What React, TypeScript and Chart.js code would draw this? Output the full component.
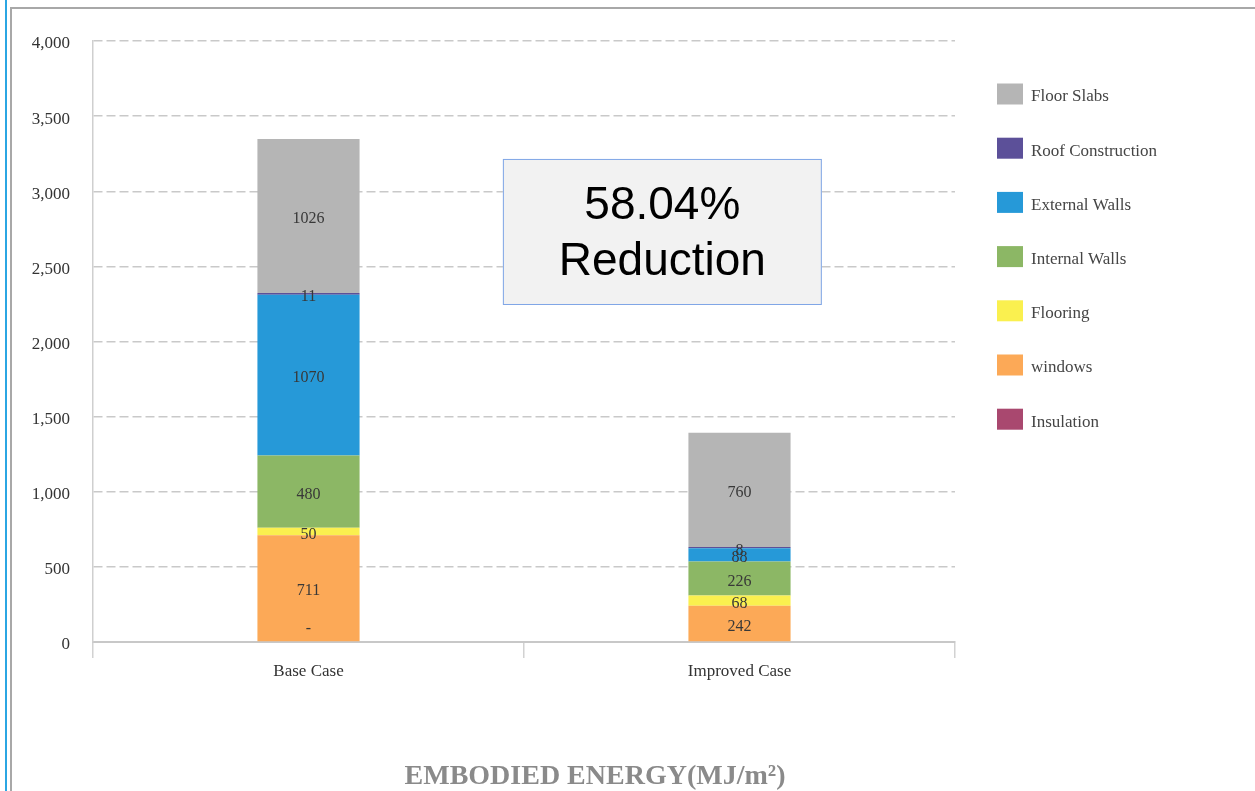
import React, { useEffect, useRef } from "react";
import { Chart, registerables } from "chart.js";

Chart.register(...registerables);

// ---- data ----
const categories = ["Base Case", "Improved Case"];
const seriesNames = [
  "Insulation",
  "windows",
  "Flooring",
  "Internal Walls",
  "External Walls",
  "Roof Construction",
  "Floor Slabs",
];
const insulation = [0, null];
const windows = [711, 242];
const flooring = [50, 68];
const internalWalls = [480, 226];
const externalWalls = [1070, 88];
const roofConstruction = [11, 8];
const floorSlabs = [1026, 760];
const seriesColors = [
  "#a9486f",
  "#fca957",
  "#faf04f",
  "#8cb765",
  "#2699d8",
  "#5c5099",
  "#b5b5b5",
];
const yMax = 4000;
const yStep = 500;
const axisTitle = "EMBODIED ENERGY(MJ/m\u00B2)";
const noteLines = ["58.04%", "Reduction"];

const SERIF = "'Liberation Serif', 'Times New Roman', serif";
const SANS = "'Liberation Sans', Arial, sans-serif";

const seriesValues = [
  insulation,
  windows,
  flooring,
  internalWalls,
  externalWalls,
  roofConstruction,
  floorSlabs,
];

const labelPlugin = {
  id: "segLabels",
  afterDatasetsDraw(chart: any) {
    const ctx = chart.ctx;
    ctx.save();
    ctx.font = `16px ${SERIF}`;
    ctx.fillStyle = "#383838";
    ctx.textAlign = "center";
    ctx.textBaseline = "middle";
    chart.data.datasets.forEach((ds: any, di: number) => {
      const meta = chart.getDatasetMeta(di);
      meta.data.forEach((el: any, i: number) => {
        const v = ds.data[i];
        if (v === null || v === undefined) return;
        if (v === 0) {
          ctx.fillText("-", el.x, el.base - 13);
        } else {
          ctx.fillText(String(v), el.x, (el.y + el.base) / 2 + 3);
        }
      });
    });
    ctx.restore();
  },
};

const decorPlugin = {
  id: "decor",
  afterDraw(chart: any) {
    const ctx = chart.ctx;
    const xs = chart.scales.x;
    const ys = chart.scales.y;
    ctx.save();
    // annotation box
    const l = xs.getPixelForValue(0.451);
    const r = xs.getPixelForValue(1.191);
    const t = ys.getPixelForValue(3215);
    const b = ys.getPixelForValue(2243);
    ctx.fillStyle = "#f2f2f2";
    ctx.fillRect(l, t, r - l, b - t);
    ctx.strokeStyle = "#7fa6e6";
    ctx.lineWidth = 1;
    ctx.strokeRect(l + 0.5, t + 0.5, r - l - 1, b - t - 1);
    ctx.fillStyle = "#000";
    ctx.font = `46px ${SANS}`;
    ctx.textAlign = "center";
    ctx.textBaseline = "middle";
    const cx = (l + r) / 2;
    const cy = (t + b) / 2;
    ctx.fillText(noteLines[0], cx, cy - 26);
    ctx.fillText(noteLines[1], cx, cy + 30);

    // legend (top to bottom reversed stack order)
    const n = chart.data.datasets.length;
    ctx.font = `17px ${SERIF}`;
    ctx.textAlign = "left";
    for (let k = 0; k < n; k++) {
      const ds = chart.data.datasets[n - 1 - k];
      const yc = 94 + k * 54.2;
      ctx.fillStyle = ds.backgroundColor;
      ctx.fillRect(997, yc - 10.5, 26, 21);
      ctx.fillStyle = "#454545";
      ctx.fillText(ds.label, 1031, yc + 3);
    }

    // bottom title
    ctx.font = `bold 28px ${SERIF}`;
    ctx.fillStyle = "#8a8a8a";
    ctx.textAlign = "center";
    ctx.fillText(axisTitle, 595, 777);
    ctx.restore();
  },
};

export default function App() {
  const ref = useRef<HTMLCanvasElement | null>(null);
  useEffect(() => {
    if (!ref.current) return;
    const chart = new Chart(ref.current, {
      type: "bar",
      data: {
        labels: categories,
        datasets: seriesNames.map((name, i) => ({
          label: name,
          data: seriesValues[i] as any,
          backgroundColor: seriesColors[i],
          borderWidth: 0,
          categoryPercentage: 1,
          barPercentage: 0.237,
        })),
      },
      options: {
        responsive: false,
        animation: false,
        devicePixelRatio: 1,
        layout: { padding: { left: 0, top: 41, right: 300, bottom: 0 } },
        plugins: {
          legend: { display: false },
          tooltip: { enabled: false },
          title: { display: false },
        },
        scales: {
          x: {
            stacked: true,
            offset: true,
            afterFit(scale: any) {
              scale.height = 149;
            },
            grid: {
              offset: true,
              drawOnChartArea: false,
              drawTicks: true,
              tickLength: 16,
              color: "#d2d2d2",
              lineWidth: 1.5,
            },
            border: { display: true, color: "#c8c8c8", width: 2 },
            ticks: {
              padding: 3,
              color: "#333",
              font: { family: SERIF, size: 17 },
            },
          },
          y: {
            stacked: true,
            min: 0,
            max: yMax,
            afterFit(scale: any) {
              scale.width = 93;
            },
            ticks: {
              stepSize: yStep,
              padding: 23,
              labelOffset: 3,
              color: "#333",
              font: { family: SERIF, size: 17 },
              callback: (v: any) => Number(v).toLocaleString("en-US"),
            },
            grid: {
              drawTicks: false,
              color: "#c9c9c9",
              lineWidth: 1.5,
            },
            border: { display: true, color: "#cfcfcf", width: 1.5, dash: [9, 4] },
          },
        },
      },
      plugins: [labelPlugin, decorPlugin],
    } as any);
    return () => chart.destroy();
  }, []);

  return (
    <div
      style={{
        position: "absolute",
        left: 0,
        top: 0,
        width: 1255,
        height: 791,
        background: "#fff",
        overflow: "hidden",
      }}
    >
      <canvas ref={ref} width={1255} height={791} style={{ display: "block", position: "absolute", left: 0, top: 0 }} />
      <div style={{ position: "absolute", left: 5, top: 0, width: 2, height: 791, background: "#2ba6e3" }} />
      <div style={{ position: "absolute", left: 10, top: 7, width: 2, height: 784, background: "#a8a8a8" }} />
      <div style={{ position: "absolute", left: 10, top: 7, width: 1245, height: 2, background: "#a8a8a8" }} />
    </div>
  );
}
